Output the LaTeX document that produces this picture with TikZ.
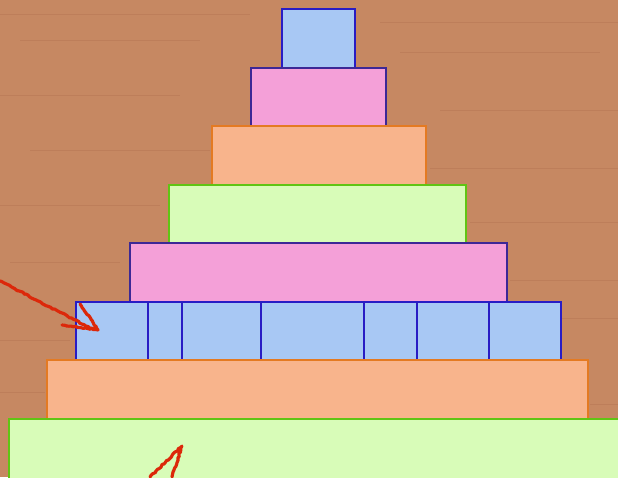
\documentclass[tikz,border=0pt]{standalone}
\usetikzlibrary{decorations.pathmorphing}

\definecolor{wood}{RGB}{198,136,98}
\definecolor{grain}{RGB}{180,116,82}
\definecolor{blufill}{RGB}{168,200,244}
\definecolor{bluline}{RGB}{40,28,196}
\definecolor{pinkfill}{RGB}{244,160,216}
\definecolor{pinkline}{RGB}{60,40,150}
\definecolor{peachfill}{RGB}{248,180,140}
\definecolor{peachline}{RGB}{228,122,34}
\definecolor{greenfill}{RGB}{216,252,184}
\definecolor{greenline}{RGB}{96,196,20}
\definecolor{scribble}{RGB}{220,40,10}

\tikzset{
  blublock/.style={fill=blufill, draw=bluline, line width=2.8pt},
  pinkblock/.style={fill=pinkfill, draw=pinkline, line width=2.8pt},
  peachblock/.style={fill=peachfill, draw=peachline, line width=2.8pt},
  greenblock/.style={fill=greenfill, draw=greenline, line width=2.8pt},
  scrawl/.style={scribble, line width=4.5pt, line cap=round, line join=round,
    decorate, decoration={random steps, segment length=3pt, amplitude=1pt}}
}

\begin{document}
\begin{tikzpicture}[x=0.05cm,y=-0.05cm]

% --- Fondo di legno ---
\fill[wood] (0,0) rectangle (618,477);
\useasboundingbox (0,0) rectangle (618,477);
\foreach \y/\a/\b in {14/0/250, 22/380/618, 40/20/200, 52/400/600, 95/0/180,
  110/440/618, 150/30/210, 168/430/618, 205/0/160, 222/470/618, 262/10/120,
  280/510/618, 318/560/618, 340/0/70, 392/0/45, 404/590/618}
  \draw[grain, line width=1pt, opacity=0.45] (\a,\y) -- (\b,\y);

% --- Piramide ---
\draw[blublock]   (282,9)   rectangle (355,68);
\draw[pinkblock]  (251,68)  rectangle (386,126);
\draw[peachblock] (212,126) rectangle (426,185);
\draw[greenblock] (169,185) rectangle (466,243);
\draw[pinkblock]  (130,243) rectangle (507,302);
\draw[blublock]   (76,302)  rectangle (561,360);
\foreach \x in {148,182,261,364,417,489}
  \draw[bluline, line width=2.8pt] (\x,302) -- (\x,360);
\draw[peachblock] (47,360)  rectangle (588,419);
\draw[greenblock] (9,419)   rectangle (625,485);

% --- Frecce a mano ---
\draw[scrawl] (0,281) -- (94,330);
\draw[scrawl] (80,304) -- (98,330) -- (62,325);
\draw[scrawl] (150,477) -- (182,446) -- (172,477);

\end{tikzpicture}
\end{document}
